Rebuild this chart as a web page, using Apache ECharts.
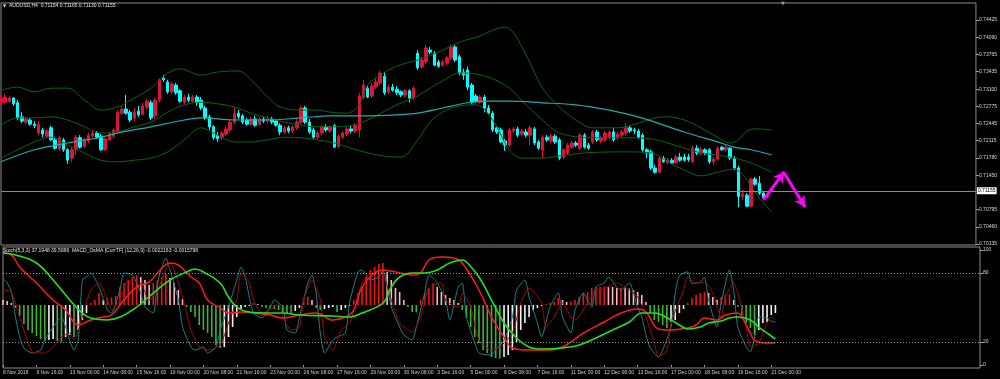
<!DOCTYPE html>
<html><head><meta charset="utf-8">
<script src="https://cdn.jsdelivr.net/npm/echarts@6/dist/echarts.min.js"></script>
<style>html,body{margin:0;padding:0;background:#000}#c{width:1000px;height:379px}</style>
</head><body><div id="c"></div>
<script>
const symbolTitle = 'AUDUSD,H4  0.71154 0.71165 0.71130 0.71155';
const subTitle = 'Stoch(5,3,3) 37.1948 39.5086  MACD_OsMA [CurrTF] (12,26,9) -0.0022163 -0.0015798';
const tickLabels = ['8 Nov 2018','9 Nov 16:00','13 Nov 00:00','14 Nov 08:00','15 Nov 16:00','19 Nov 00:00','20 Nov 08:00','21 Nov 16:00','23 Nov 00:00','26 Nov 08:00','27 Nov 16:00','29 Nov 00:00','30 Nov 08:00','3 Dec 16:00','5 Dec 00:00','6 Dec 08:00','7 Dec 16:00','11 Dec 00:00','12 Dec 08:00','13 Dec 16:00','17 Dec 00:00','18 Dec 08:00','19 Dec 16:00','21 Dec 00:00'];
const priceTicks = [0.74425,0.74090,0.73765,0.73435,0.73100,0.72775,0.72445,0.72115,0.71780,0.71450,0.70795,0.70460,0.70135];
const stochTicks = [0,20,80,100];
const stochLevels = [20,80];
const lastPrice = 0.71155;

// [open, close, low, high]
const candles = [
[.7284,.7293,.7280,.7299],[.7285,.7295,.7282,.7301],[.7287,.7293,.7284,.7297],[.7293,.7282,.7278,.7295],[.7284,.7255,.7251,.7289],
[.7257,.7249,.7245,.7266],[.7247,.7253,.7243,.7257],[.7251,.7243,.7240,.7255],[.7243,.7240,.7236,.7249],[.7226,.7243,.7222,.7249],
[.7232,.7224,.7218,.7236],[.7220,.7230,.7217,.7234],[.7236,.7213,.7211,.7240],[.7213,.7197,.7194,.7217],[.7196,.7217,.7192,.7220],
[.7213,.7194,.7190,.7217],[.7194,.7174,.7167,.7197],[.7178,.7194,.7171,.7199],[.7194,.7218,.7184,.7222],[.7217,.7199,.7196,.7222],
[.7201,.7213,.7197,.7217],[.7211,.7222,.7207,.7226],[.7220,.7226,.7217,.7232],[.7226,.7218,.7215,.7230],[.7220,.7194,.7192,.7224],
[.7194,.7215,.7192,.7218],[.7213,.7224,.7211,.7228],[.7220,.7232,.7217,.7236],[.7230,.7266,.7226,.7270],[.7264,.7272,.7261,.7278],
[.7272,.7264,.7261,.7299],[.7266,.7251,.7247,.7270],[.7255,.7266,.7249,.7274],[.7268,.7261,.7257,.7278],[.7262,.7278,.7259,.7284],
[.7276,.7287,.7272,.7291],[.7284,.7255,.7251,.7289],[.7259,.7289,.7253,.7293],[.7289,.7328,.7285,.7331],[.7331,.7328,.7324,.7337],
[.7324,.7305,.7301,.7328],[.7305,.7320,.7301,.7324],[.7318,.7303,.7299,.7322],[.7307,.7287,.7284,.7310],[.7285,.7295,.7282,.7299],
[.7295,.7289,.7285,.7301],[.7287,.7295,.7284,.7299],[.7295,.7284,.7278,.7299],[.7289,.7274,.7270,.7295],[.7274,.7255,.7251,.7278],
[.7257,.7238,.7232,.7261],[.7238,.7217,.7213,.7241],[.7222,.7215,.7209,.7228],[.7217,.7226,.7213,.7230],[.7224,.7234,.7220,.7238],
[.7232,.7247,.7228,.7251],[.7247,.7264,.7243,.7276],[.7264,.7257,.7253,.7270],[.7259,.7247,.7243,.7262],[.7251,.7243,.7240,.7255],
[.7243,.7253,.7240,.7257],[.7253,.7241,.7238,.7259],[.7243,.7253,.7240,.7257],[.7253,.7249,.7245,.7257],[.7249,.7253,.7245,.7259],
[.7253,.7247,.7243,.7257],[.7249,.7241,.7238,.7253],[.7241,.7228,.7222,.7245],[.7228,.7236,.7224,.7240],[.7236,.7230,.7226,.7240],
[.7230,.7238,.7226,.7241],[.7236,.7247,.7232,.7255],[.7247,.7274,.7243,.7278],[.7274,.7247,.7243,.7278],[.7247,.7228,.7224,.7253],
[.7232,.7218,.7215,.7236],[.7218,.7226,.7213,.7230],[.7226,.7238,.7222,.7241],[.7238,.7232,.7228,.7243],[.7230,.7238,.7226,.7241],
[.7240,.7199,.7197,.7243],[.7201,.7220,.7197,.7224],[.7218,.7226,.7215,.7230],[.7224,.7234,.7220,.7238],[.7234,.7230,.7226,.7240],
[.7230,.7241,.7226,.7245],[.7232,.7297,.7218,.7303],[.7295,.7318,.7291,.7328],[.7312,.7295,.7293,.7316],[.7297,.7316,.7293,.7322],
[.7314,.7324,.7310,.7331],[.7322,.7341,.7318,.7345],[.7335,.7303,.7299,.7343],[.7305,.7314,.7301,.7318],[.7314,.7308,.7305,.7320],
[.7310,.7303,.7299,.7316],[.7305,.7299,.7295,.7308],[.7299,.7307,.7295,.7310],[.7307,.7293,.7284,.7310],[.7293,.7312,.7289,.7316],
[.7379,.7351,.7347,.7385],[.7353,.7366,.7349,.7372],[.7362,.7389,.7358,.7395],[.7385,.7381,.7377,.7391],[.7379,.7356,.7354,.7383],
[.7362,.7354,.7351,.7366],[.7356,.7362,.7353,.7366],[.7360,.7370,.7356,.7374],[.7370,.7391,.7366,.7395],[.7391,.7366,.7362,.7395],
[.7372,.7341,.7337,.7376],[.7343,.7337,.7328,.7349],[.7347,.7314,.7308,.7353],[.7318,.7285,.7282,.7322],[.7297,.7287,.7284,.7301],
[.7285,.7295,.7282,.7299],[.7295,.7274,.7266,.7299],[.7274,.7264,.7261,.7280],[.7264,.7232,.7228,.7268],[.7236,.7228,.7224,.7240],
[.7232,.7209,.7207,.7236],[.7211,.7203,.7192,.7215],[.7203,.7232,.7199,.7236],[.7230,.7234,.7226,.7238],[.7234,.7222,.7218,.7238],
[.7224,.7230,.7220,.7234],[.7228,.7222,.7218,.7234],[.7222,.7236,.7203,.7240],[.7234,.7207,.7203,.7238],[.7209,.7197,.7194,.7213],
[.7194,.7218,.7178,.7222],[.7218,.7213,.7209,.7222],[.7211,.7220,.7207,.7224],[.7220,.7209,.7205,.7224],[.7213,.7178,.7174,.7217],
[.7180,.7194,.7176,.7197],[.7188,.7203,.7184,.7207],[.7199,.7207,.7196,.7211],[.7207,.7203,.7199,.7211],[.7197,.7222,.7194,.7226],
[.7222,.7199,.7196,.7226],[.7203,.7197,.7194,.7207],[.7209,.7228,.7205,.7232],[.7228,.7213,.7209,.7232],[.7211,.7217,.7207,.7220],
[.7213,.7226,.7209,.7230],[.7217,.7228,.7213,.7232],[.7228,.7213,.7209,.7236],[.7217,.7224,.7213,.7228],[.7222,.7228,.7218,.7232],
[.7226,.7236,.7222,.7245],[.7236,.7230,.7226,.7240],[.7232,.7230,.7224,.7236],[.7230,.7218,.7215,.7234],[.7222,.7194,.7190,.7226],
[.7194,.7188,.7178,.7197],[.7190,.7159,.7155,.7194],[.7159,.7151,.7148,.7165],[.7151,.7178,.7148,.7182],[.7178,.7171,.7169,.7182],
[.7169,.7174,.7167,.7178],[.7174,.7169,.7167,.7178],[.7169,.7180,.7167,.7184],[.7180,.7174,.7171,.7188],[.7180,.7174,.7171,.7186],
[.7180,.7175,.7171,.7186],[.7171,.7197,.7169,.7201],[.7197,.7188,.7184,.7203],[.7188,.7194,.7184,.7199],[.7194,.7188,.7184,.7197],
[.7194,.7171,.7167,.7197],[.7171,.7176,.7165,.7180],[.7176,.7197,.7173,.7201],[.7199,.7194,.7192,.7201],[.7194,.7199,.7190,.7203],
[.7197,.7178,.7174,.7199],[.7178,.7159,.7155,.7182],[.7159,.7104,.7084,.7163],[.7105,.7109,.7098,.7117],[.7107,.7086,.7084,.7111],
[.7086,.7138,.7084,.7140],[.7138,.7128,.7125,.7142],[.7130,.7111,.7107,.7144],[.7111,.7102,.7100,.7113],[.7103,.7107,.7100,.7111],
[0.71154,0.71155,0.71130,0.71165]
];

// moving average and Bollinger band samples: [bar index, price]
const maLine = [[0,.7171],[8,.7194],[16,.7207],[24,.7218],[28,.7226],[36,.7238],[44,.7251],[48,.7255],[56,.7251],[64,.7251],[72,.7255],[79,.7259],[87,.7259],[95,.7261],[100,.7264],[106,.7274],[112,.7284],[117,.7287],[122,.7287],[130,.7284],[138,.7280],[146,.7270],[152,.7259],[157,.7247],[164,.7228],[172,.7209],[176,.7199],[180,.7194],[185,.7184]];
const bbUpper = [[0,.7308],[4,.7314],[8,.7305],[12,.7312],[16,.7312],[20,.7289],[24,.7270],[28,.7276],[32,.7293],[36,.7312],[40,.7341],[43,.7349],[48,.7337],[52,.7343],[57,.7345],[60,.7328],[64,.7295],[67,.7276],[72,.7270],[76,.7270],[79,.7266],[83,.7264],[86,.7280],[88,.7318],[91,.7337],[95,.7354],[100,.7366],[105,.7381],[110,.7400],[115,.7412],[118,.7423],[121,.7429],[123,.7418],[126,.7376],[130,.7312],[134,.7276],[138,.7251],[142,.7236],[148,.7236],[153,.7245],[157,.7255],[160,.7257],[164,.7251],[168,.7236],[172,.7218],[175,.7207],[177,.7213],[179,.7230],[181,.7234],[185,.7232]];
const bbMiddle = [[0,.7241],[4,.7255],[8,.7255],[12,.7257],[16,.7251],[20,.7238],[24,.7226],[28,.7228],[32,.7238],[36,.7247],[40,.7266],[44,.7280],[48,.7285],[52,.7282],[56,.7276],[60,.7264],[64,.7255],[68,.7247],[72,.7241],[76,.7238],[80,.7238],[84,.7240],[88,.7251],[95,.7280],[100,.7297],[103,.7312],[106,.7326],[110,.7341],[114,.7339],[118,.7330],[122,.7312],[126,.7280],[130,.7251],[134,.7226],[142,.7217],[150,.7217],[156,.7215],[160,.7207],[164,.7197],[168,.7188],[172,.7184],[176,.7178],[180,.7169],[185,.7151]];
const bbLower = [[0,.7178],[4,.7194],[8,.7209],[12,.7218],[16,.7203],[20,.7188],[24,.7174],[28,.7171],[32,.7174],[36,.7178],[40,.7190],[44,.7213],[48,.7236],[52,.7222],[56,.7209],[60,.7209],[64,.7213],[68,.7218],[72,.7217],[76,.7213],[80,.7207],[84,.7197],[88,.7188],[92,.7182],[96,.7180],[100,.7213],[103,.7247],[106,.7266],[110,.7278],[114,.7280],[118,.7251],[122,.7194],[125,.7178],[130,.7178],[134,.7182],[140,.7188],[150,.7190],[156,.7188],[160,.7171],[164,.7155],[168,.7144],[172,.7151],[176,.7157],[178,.7146],[180,.7125],[182,.7102],[185,.7075]];

// lower window
const osma = [5,4,2,-3,-11,-19,-25,-28,-31,-34,
-36,-35,-34,-36,-37,-32,-30,-32,-25,-15,
-8,2,5,12,5,7,8,9,18,22,
25,28,30,28,25,20,22,25,28,31,
27,22,15,6,-2,-7,-12,-20,-25,-28,
-32,-40,-43,-42,-32,-22,-12,-5,-2,-1,
2,1,-2,-3,-3.5,-4,-5,-7,-8,-8.5,
-6,-3,7,8,5,-3,-5,-4,-3,-2,
-7,-5,-3,-1,5,12,18,28,35,38,
41,42,33,25,17,13,5,-2,-7,-7.5,
5,12,17,22,18,13,10,7,5,2,
-5,-13,-22,-32,-38,-45,-48,-52,-53,-53.5,
-52,-50,-45,-37,-25,-18,-12,-5,-3,-1,
1,2,3,7,5,3,3.5,5,8,12,
13,17,18,18.3,18.5,18.4,18,17,17.2,16.8,
16.5,15,13,10,3,-8,-15,-17,-20,-23,
-17,-15,-8,-4,2,7,10,12,13,12,
8,5,8,10,10.5,5,-2,-10,-18,-23,
-30,-25,-18,-17,-10,-8];
const stochMain = [[0,75],[1,71.3],[2,63.5],[3,41.7],[4,24.3],[5,14.8],[7,10.4],[9,13],[10,21.7],[12,33],[14,41.7],[15,33],[17,13],[18,21.7],[19,73.9],[20,76.5],[21,80],[23,67.8],[25,47.8],[26,45.2],[28,65.2],[29,80],[31,78.3],[33,62.6],[34,50.4],[36,45.2],[37,71.3],[39,93],[40,82.6],[42,56.5],[43,33],[45,15.7],[46,13],[48,15.7],[49,10.4],[51,15.7],[52,30.4],[54,50.4],[56,73.9],[57,85.2],[58,76.5],[59,59.1],[60,45.2],[62,40.9],[64,50.4],[65,56.5],[67,50.4],[68,30.4],[70,27.8],[71,41.7],[73,71.3],[74,78.3],[75,62.6],[76,27.8],[77,10.4],[79,21.7],[80,24.3],[82,27.8],[83,53.9],[85,80.9],[86,82.6],[88,73.9],[90,76.5],[91,82.6],[93,50.4],[95,33],[96,26],[98,21.7],[99,33],[101,62.6],[102,78.3],[104,71.3],[106,56.5],[107,39.1],[109,67.8],[110,71.3],[111,41.7],[113,19.1],[114,10.4],[117,8.7],[118,13],[120,21.7],[122,41.7],[123,65.2],[125,73.9],[126,59.1],[128,36.5],[129,24.3],[131,50.4],[133,62.6],[134,41.7],[136,27.8],[137,47.8],[139,62.6],[141,50.4],[142,67.8],[144,71.3],[145,76.5],[147,67.8],[148,65.2],[150,71.3],[152,50],[153,42],[154,26],[155,15],[157,7],[158,13],[160,33],[161,62.6],[162,78],[164,81],[165,71],[167,72],[168,76.5],[169,56.5],[171,33],[172,54],[174,82.6],[175,65],[176,33],[178,15.7],[179,11.3],[180,24.3],[181,41.7],[183,40.9],[184,38],[185,37.4]];
const stochSignal = [[0,65.2],[2,63.5],[4,41.7],[6,19.1],[7,11.3],[10,10.4],[12,15.7],[14,24.3],[16,27.8],[17,21.7],[19,41.7],[21,65.2],[23,71.3],[25,56.5],[26,47.8],[28,56.5],[30,73.9],[33,71.3],[35,56.5],[37,65.2],[40,88.7],[41,82.6],[43,59.1],[45,30.4],[47,15.7],[49,13],[52,17.4],[54,36.5],[56,56.5],[57,80],[59,71.3],[60,56.5],[62,45.2],[64,47.8],[66,53.9],[67,41.7],[69,30.4],[71,33],[72,56.5],[74,73.9],[76,56.5],[77,24.3],[79,13],[81,30.4],[83,36.5],[86,71.3],[88,80],[91,78.3],[93,56.5],[95,36.5],[98,28.7],[100,41.7],[102,67.8],[105,71.3],[106,56.5],[109,50.4],[110,62.6],[112,50.4],[114,21.7],[117,13],[119,15.7],[122,27.8],[124,53.9],[126,67],[129,53.9],[130,33],[132,41.7],[134,53.9],[136,41.7],[137,39.1],[140,53.9],[142,65.2],[145,67.8],[147,71.3],[149,67.8],[152,59.1],[154,41.7],[156,19.1],[157,7],[159,13],[160,36.5],[163,65.2],[164,76.5],[166,71.3],[168,72.2],[170,62.6],[172,41.7],[173,59.1],[175,71.3],[176,62.6],[178,33],[179,15.7],[181,19.1],[183,36.5],[184,41.7],[185,39.1]];
const macdRed = [[0,97.4],[2,95.7],[4,85.2],[8,71.3],[12,56.5],[15,47.8],[18,34.8],[21,39.1],[24,41.7],[26,43.5],[29,56.5],[32,67.8],[35,72.2],[37,80],[40,88.7],[42,87],[45,76.5],[47,71.3],[49,56.5],[52,49.6],[54,45.2],[57,46.1],[60,45.2],[64,43.5],[67,40.9],[71,43.5],[75,45.2],[79,39.1],[82,41.7],[84,47.8],[86,67.8],[89,80],[91,82.6],[95,80],[98,78.3],[100,80],[102,91.3],[105,93.9],[108,93],[110,88.7],[114,65.2],[117,41.7],[120,24.3],[122,14.8],[126,13],[130,13],[134,15.7],[139,27.8],[144,37.4],[148,45.2],[152,48.7],[154,46.1],[157,31.3],[160,30.4],[164,32.2],[166,34.8],[168,40.9],[171,39.1],[173,43.5],[176,45.2],[177,41.7],[179,27.8],[180,21.7],[183,19.1],[185,19.1]];
const macdGreen = [[0,97.4],[3,95.7],[8,88.7],[12,73.9],[16,56.5],[19,45.2],[21,40.9],[25,39.1],[28,41.7],[32,50.4],[36,62.6],[40,73.9],[44,80.9],[46,83.5],[48,80.9],[52,71.3],[54,59.1],[56,50.4],[59,46.1],[64,45.2],[67,45.2],[71,43.5],[79,42.6],[83,41.7],[86,45.2],[91,53.9],[93,67.8],[95,76.5],[98,80],[101,80],[104,82.6],[107,88.7],[110,91.3],[111,89.6],[114,76.5],[117,56.5],[120,36.5],[123,23.5],[126,15.7],[129,13.9],[134,14.8],[138,17.4],[142,23.5],[146,30.4],[150,37.4],[153,45.2],[156,45.2],[160,39.1],[162,34.8],[164,31.3],[167,33],[169,36.5],[172,38.3],[174,40.9],[176,41.7],[179,39.1],[181,33],[183,27.8],[185,22.6]];

// hand-drawn forecast arrows: [bar index, price]
const arrowUp = [[183,.7098],[188,.7152]];
const arrowDown = [[188,.7149],[193,.7084]];

// H4 bar times (weekends skipped), including empty future bars on the right
const barTimes = [];
(function(){ let t = Date.UTC(2018,10,8,8); while (barTimes.length < 235) { const d = new Date(t); const wd = d.getUTCDay(); if (wd !== 0 && wd !== 6) barTimes.push(d.toISOString().slice(0,16).replace('T',' ')); t += 4*3600e3; } })();

const FONT = 'Liberation Sans';
const labelEvery = (idx) => idx % 8 === 0 && idx / 8 < tickLabels.length;
const histColors = osma.map((v,i)=>{ const p = i>0 ? osma[i-1] : v+1; if (v >= 0) return v >= p ? '#e8141e' : '#ffb6c1'; return v <= p ? '#3cb43c' : '#f2f2f2'; });

const chart = echarts.init(document.getElementById('c'));
chart.setOption({
  backgroundColor:'#000', animation:false,
  grid:[
    {left:1, top:3, width:979, height:242, show:true, borderColor:'#8c8c8c', borderWidth:1, backgroundColor:'transparent'},
    {left:1, top:247, width:979, height:121, show:true, borderColor:'#8c8c8c', borderWidth:1, backgroundColor:'transparent'}
  ],
  xAxis:[
    {type:'category', gridIndex:0, data:barTimes, boundaryGap:false, axisLine:{show:false}, axisTick:{show:false}, axisLabel:{show:false}, splitLine:{show:false}},
    {type:'category', gridIndex:1, data:barTimes, boundaryGap:false, axisLine:{show:false},
      axisTick:{show:true, interval:labelEvery, length:2, lineStyle:{color:'#a0a0a0'}},
      axisLabel:{interval:labelEvery, formatter:(v,idx)=> labelEvery(idx) ? tickLabels[idx/8] : '', color:'#d0d0d0', fontSize:5, fontFamily:FONT, align:'left', margin:2},
      splitLine:{show:false}}
  ],
  yAxis:[
    {type:'value', gridIndex:0, position:'right', min:0.70116, max:0.74751, scale:true,
      axisLine:{show:false}, splitLine:{show:false},
      axisTick:{show:true, customValues:priceTicks, length:3, lineStyle:{color:'#a0a0a0'}},
      axisLabel:{customValues:priceTicks, formatter:v=>v.toFixed(5), color:'#d8d8d8', fontSize:5, fontFamily:FONT, margin:3}},
    {type:'value', gridIndex:1, position:'right', min:-2.6, max:102.6,
      axisLine:{show:false}, splitLine:{show:false},
      axisTick:{show:true, customValues:stochTicks, length:3, lineStyle:{color:'#a0a0a0'}},
      axisLabel:{customValues:stochTicks, formatter:v=>String(v), color:'#d8d8d8', fontSize:5, fontFamily:FONT, margin:3}},
    {type:'value', gridIndex:1, min:-63, max:58, show:false}
  ],
  graphic:[
    {type:'text', x:3, y:6, style:{text:'▼', fill:'#e0e0e0', font:'4px DejaVu Sans', verticalAlign:'middle'}},
    {type:'text', x:9, y:6, style:{text:symbolTitle, fill:'#e6e6e6', font:'5px '+FONT, verticalAlign:'middle'}},
    {type:'text', x:3, y:251, style:{text:subTitle, fill:'#e6e6e6', font:'5px '+FONT, verticalAlign:'middle'}},
    {type:'text', x:781, y:4, style:{text:'▼', fill:'#9a9a9a', font:'5px DejaVu Sans', verticalAlign:'middle'}}
  ],
  series:[
    {type:'candlestick', xAxisIndex:0, yAxisIndex:0, data:candles, barWidth:3, z:3,
      itemStyle:{color:'#dc143c', color0:'#00ffff', borderColor:'#dc143c', borderColor0:'#00ffff', borderWidth:1},
      markLine:{silent:true, symbol:'none', animation:false, precision:5,
        lineStyle:{color:'#8c8c8c', width:1, type:'solid'},
        label:{show:true, position:'end', distance:1, formatter:()=>lastPrice.toFixed(5), color:'#000', backgroundColor:'#fff', padding:[1,1], fontSize:5, fontFamily:FONT},
        data:[{yAxis:lastPrice}]}},
    {type:'line', xAxisIndex:0, yAxisIndex:0, data:bbUpper, showSymbol:false, smooth:0.35, lineStyle:{color:'#0c6410', width:1}, z:4},
    {type:'line', xAxisIndex:0, yAxisIndex:0, data:bbMiddle, showSymbol:false, smooth:0.35, lineStyle:{color:'#0c6410', width:1}, z:4},
    {type:'line', xAxisIndex:0, yAxisIndex:0, data:bbLower, showSymbol:false, smooth:0.35, lineStyle:{color:'#0c6410', width:1}, z:4},
    {type:'line', xAxisIndex:0, yAxisIndex:0, data:maLine, showSymbol:false, smooth:0.35, lineStyle:{color:'#22a9a9', width:1.2}, z:5,
      markLine:{silent:true, animation:false, precision:5, lineStyle:{color:'#ff00ff', width:3, type:'solid'}, label:{show:false},
        data:[
          [{coord:arrowUp[0], symbol:'none'},{coord:arrowUp[1], symbol:'arrow', symbolSize:[9,11]}],
          [{coord:arrowDown[0], symbol:'none'},{coord:arrowDown[1], symbol:'arrow', symbolSize:[9,11]}]
        ]}},
    {type:'bar', xAxisIndex:1, yAxisIndex:2, data:osma.map((v,i)=>({value:v, itemStyle:{color:histColors[i]}})), barWidth:1.6, z:2},
    {type:'line', xAxisIndex:1, yAxisIndex:1, data:stochMain, showSymbol:false, smooth:0.2, lineStyle:{color:'#168383', width:1}, z:3,
      markLine:{silent:true, symbol:'none', animation:false, label:{show:false}, lineStyle:{color:'#9a9a9a', width:1, type:[1,2]},
        data:stochLevels.map(v=>({yAxis:v}))}},
    {type:'line', xAxisIndex:1, yAxisIndex:1, data:stochSignal, showSymbol:false, smooth:0.2, lineStyle:{color:'#a00808', width:1}, z:3},
    {type:'line', xAxisIndex:1, yAxisIndex:1, data:macdRed, showSymbol:false, smooth:0.4, lineStyle:{color:'#ff1a1a', width:1.5}, z:4},
    {type:'line', xAxisIndex:1, yAxisIndex:1, data:macdGreen, showSymbol:false, smooth:0.4, lineStyle:{color:'#22e022', width:1.6}, z:5}
  ]
});
</script>
</body></html>
